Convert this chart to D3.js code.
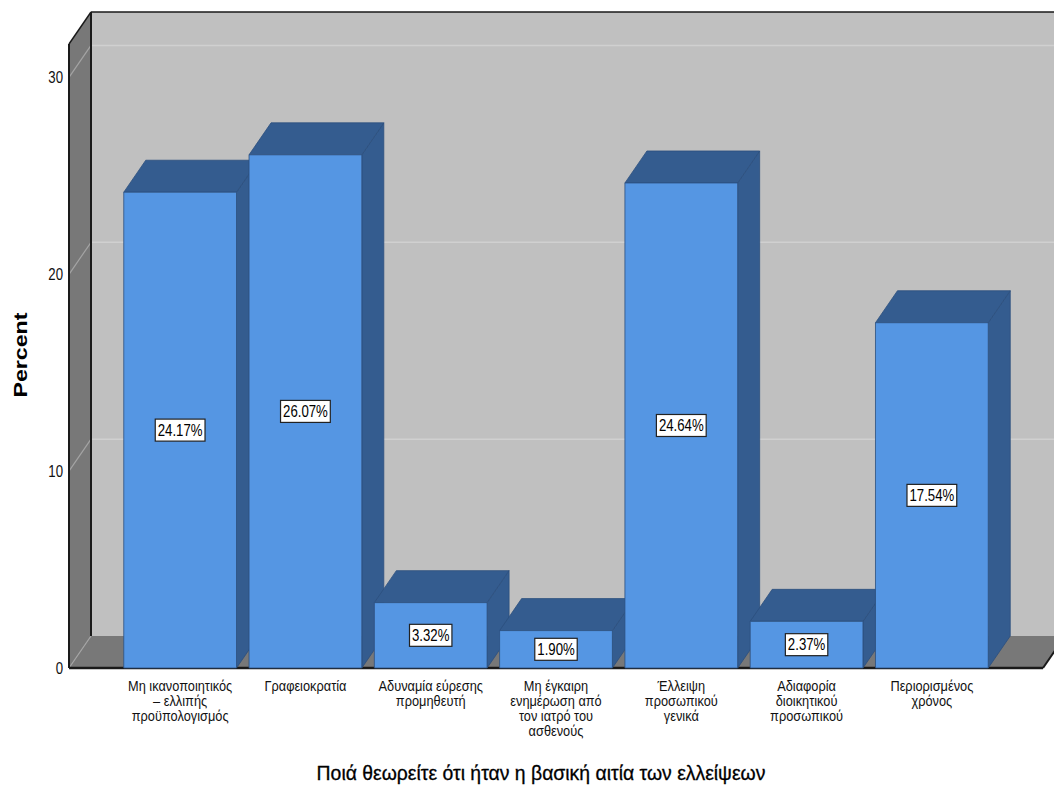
<!DOCTYPE html>
<html>
<head>
<meta charset="utf-8">
<script src="https://cdn.jsdelivr.net/npm/d3@7"></script>
<style>
  html, body { margin: 0; padding: 0; background: #ffffff; }
  svg { display: block; font-family: "Liberation Sans", Arial, sans-serif; }
</style>
</head>
<body>
<svg id="chart" width="1054" height="785"></svg>
<script>
// Reasons given for the shortages (x categories, wrapped lines split by "\n")
const categories = [
  "Μη ικανοποιητικός\n– ελλιπής\nπροϋπολογισμός",
  "Γραφειοκρατία",
  "Αδυναμία εύρεσης\nπρομηθευτή",
  "Μη έγκαιρη\nενημέρωση από\nτον ιατρό του\nασθενούς",
  "Έλλειψη\nπροσωπικού\nγενικά",
  "Αδιαφορία\nδιοικητικού\nπροσωπικού",
  "Περιορισμένος\nχρόνος"
];
const percents = [24.17, 26.07, 3.32, 1.90, 24.64, 2.37, 17.54];
const yTicks = [0, 10, 20, 30];
const yAxisMax = 31.7;
const xTitle = "Ποιά θεωρείτε ότι ήταν η βασική αιτία των ελλείψεων";
const yTitle = "Percent";

const svg = d3.select("#chart");

// Front plane of the 3D box and the depth offset of the back wall
const front = { left: 69, right: 1043, top: 44, bottom: 668 };
const depth = { dx: 22, dy: -32 };
const glyphSquash = 0.8;      // horizontal glyph compression for value/tick text
const categorySquash = 0.914; // compression for category labels
const titleSquash = 0.97;

const x = d3.scaleBand()
  .domain(categories)
  .range([front.left, front.right])
  .paddingInner(0.1)
  .paddingOuter(0.437);

const y = d3.scaleLinear()
  .domain([0, yAxisMax])
  .range([front.bottom, front.top]);

const colors = {
  backWall: "#c0c0c0",
  sideWall: "#787878",
  grid: "#d0d0d0",
  gridSide: "#a4a4a4",
  barFront: "#5596e3",
  barDark: "#345c8f",
  barEdge: "#2c4f7e"
};

const pts = arr => arr.map(p => p.join(",")).join(" ");
const bx = (px) => px + depth.dx;
const by = (py) => py + depth.dy;

// Back wall
svg.append("polygon")
  .attr("points", pts([
    [bx(front.left), by(front.top)], [bx(front.right) + 40, by(front.top)],
    [bx(front.right) + 40, by(front.bottom)], [bx(front.left), by(front.bottom)]
  ]))
  .attr("fill", colors.backWall);

// Left side wall
svg.append("polygon")
  .attr("points", pts([
    [front.left, front.top], [bx(front.left), by(front.top)],
    [bx(front.left), by(front.bottom)], [front.left, front.bottom]
  ]))
  .attr("fill", colors.sideWall);

// Floor
svg.append("polygon")
  .attr("points", pts([
    [front.left, front.bottom], [bx(front.left), by(front.bottom)],
    [bx(front.right), by(front.bottom)], [front.right, front.bottom]
  ]))
  .attr("fill", colors.sideWall);

// Gridlines on back and side walls
yTicks.forEach(v => {
  const py = y(v);
  if (v > 0) {
    svg.append("line")
      .attr("x1", bx(front.left)).attr("y1", by(py))
      .attr("x2", bx(front.right) + 40).attr("y2", by(py))
      .attr("stroke", colors.grid).attr("stroke-width", 1.5);
  }
  svg.append("line")
    .attr("x1", front.left).attr("y1", py)
    .attr("x2", bx(front.left)).attr("y2", by(py))
    .attr("stroke", colors.gridSide).attr("stroke-width", 1.2);
});

// Frame edges
const frame = svg.append("g").attr("stroke", "#1a1a1a").attr("fill", "none");
frame.append("line").attr("x1", front.left).attr("y1", front.top)
  .attr("x2", front.left).attr("y2", front.bottom).attr("stroke-width", 2);
frame.append("line").attr("x1", bx(front.left)).attr("y1", by(front.top))
  .attr("x2", bx(front.left)).attr("y2", by(front.bottom)).attr("stroke-width", 2);
frame.append("line").attr("x1", front.left).attr("y1", front.top)
  .attr("x2", bx(front.left)).attr("y2", by(front.top)).attr("stroke-width", 1.5);
frame.append("line").attr("x1", bx(front.left)).attr("y1", by(front.top))
  .attr("x2", bx(front.right) + 40).attr("y2", by(front.top)).attr("stroke-width", 1.5);
frame.append("line").attr("x1", front.left).attr("y1", front.bottom)
  .attr("x2", front.right).attr("y2", front.bottom).attr("stroke-width", 2.5);
frame.append("line").attr("x1", front.right).attr("y1", front.bottom)
  .attr("x2", bx(front.right)).attr("y2", by(front.bottom)).attr("stroke-width", 2);

// Bars drawn left to right so each one overlaps its neighbour's side face
const bars = svg.append("g");
categories.forEach((c, i) => {
  const x0 = x(c), x1 = x(c) + x.bandwidth();
  const yt = y(percents[i]), yb = y(0);
  const g = bars.append("g").attr("stroke", colors.barEdge).attr("stroke-width", 0.8)
    .attr("stroke-linejoin", "round");
  // side face
  g.append("polygon")
    .attr("points", pts([[x1, yt], [bx(x1), by(yt)], [bx(x1), by(yb)], [x1, yb]]))
    .attr("fill", colors.barDark);
  // top face
  g.append("polygon")
    .attr("points", pts([[x0, yt], [bx(x0), by(yt)], [bx(x1), by(yt)], [x1, yt]]))
    .attr("fill", colors.barDark);
  // front face
  g.append("rect")
    .attr("x", x0).attr("y", yt)
    .attr("width", x1 - x0).attr("height", yb - yt)
    .attr("fill", colors.barFront);
});

// Value labels in boxes at the middle of each bar
const labels = svg.append("g");
categories.forEach((c, i) => {
  const cx = x(c) + x.bandwidth() / 2;
  const cy = y(percents[i] / 2);
  const g = labels.append("g").attr("transform", `translate(${cx},${cy})`);
  const rect = g.append("rect");
  const t = g.append("text")
    .attr("transform", `scale(${glyphSquash},1)`)
    .attr("text-anchor", "middle")
    .attr("dy", "0.35em")
    .attr("font-size", 16.5)
    .attr("fill", "#000")
    .text(percents[i].toFixed(2) + "%");
  const w = t.node().getComputedTextLength() * glyphSquash + 5;
  const h = 22;
  rect.attr("x", -w / 2).attr("y", -h / 2).attr("width", w).attr("height", h)
    .attr("fill", "#ffffff").attr("stroke", "#222").attr("stroke-width", 1.2);
});

// Y tick labels
yTicks.forEach(v => {
  svg.append("g")
    .attr("transform", `translate(63,${y(v)})`)
    .append("text")
    .attr("transform", `scale(${glyphSquash},1)`)
    .attr("text-anchor", "end")
    .attr("dy", "0.35em")
    .attr("font-size", 16.5)
    .attr("fill", "#111")
    .text(v);
});

// X category labels
categories.forEach(c => {
  const cx = x(c) + x.bandwidth() / 2;
  c.split("\n").forEach((line, j) => {
    svg.append("g")
      .attr("transform", `translate(${cx},${691 + j * 15})`)
      .append("text")
      .attr("transform", `scale(${categorySquash},1)`)
      .attr("text-anchor", "middle")
      .attr("font-size", 14)
      .attr("fill", "#111")
      .text(line);
  });
});

// Axis titles
svg.append("g")
  .attr("transform", `translate(541,780)`)
  .append("text")
  .attr("transform", `scale(${titleSquash},1)`)
  .attr("text-anchor", "middle")
  .attr("font-size", 20)
  .attr("fill", "#000")
  .attr("stroke", "#000")
  .attr("stroke-width", 0.3)
  .text(xTitle);

svg.append("g")
  .attr("transform", `translate(27,355) rotate(-90)`)
  .append("text")
  .attr("transform", `scale(${1 / glyphSquash},1)`)
  .attr("text-anchor", "middle")
  .attr("font-size", 18.5)
  .attr("font-weight", "bold")
  .attr("fill", "#000")
  .text(yTitle);
</script>
</body>
</html>
